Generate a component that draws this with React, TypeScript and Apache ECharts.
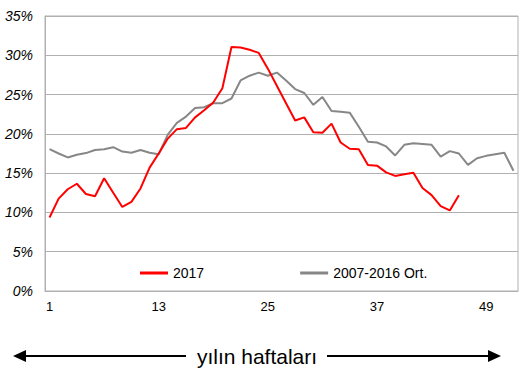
import React, { useEffect, useRef } from "react";
import * as echarts from "echarts";

const weeks: string[] = Array.from({ length: 52 }, (_, i) => String(i + 1));

const series2017: number[] = [
  9.35, 11.75, 12.95, 13.65, 12.35, 12.05, 14.35, 12.5, 10.7, 11.35,
  13.05, 15.7, 17.5, 19.4, 20.6, 20.75, 22.1, 23.0, 24.0, 25.8,
  31.05, 31.0, 30.7, 30.3, 28.3, 26.1, 23.9, 21.7, 22.1, 20.2,
  20.15, 21.3, 18.9, 18.1, 18.05, 16.05, 15.95, 15.1, 14.65, 14.85,
  15.05, 13.1, 12.2, 10.8, 10.25, 12.2,
];

const seriesAvg: number[] = [
  18.05, 17.5, 17.0, 17.35, 17.55, 17.95, 18.05, 18.3, 17.75, 17.6,
  17.95, 17.6, 17.4, 19.9, 21.4, 22.2, 23.3, 23.4, 23.9, 23.9,
  24.5, 26.8, 27.4, 27.8, 27.4, 27.8, 26.8, 25.7, 25.2, 23.7,
  24.7, 22.9, 22.8, 22.7, 20.9, 19.0, 18.9, 18.4, 17.25, 18.6,
  18.8, 18.7, 18.6, 17.1, 17.8, 17.5, 16.05, 16.9, 17.2, 17.4,
  17.6, 15.3,
];

const seriesNames: string[] = ["2017", "2007-2016 Ort."];
const axisTitle = "yılın haftaları";

export default function App() {
  const ref = useRef<HTMLDivElement>(null);
  useEffect(() => {
    if (!ref.current) return;
    const chart = echarts.init(ref.current, undefined, { renderer: "svg" });
    const font = "Liberation Sans, Arial, sans-serif";
    chart.setOption({
      animation: false,
      backgroundColor: "#fff",
      grid: {
        left: 45,
        right: 14,
        top: 16,
        bottom: 93,
        show: true,
        borderColor: "#b0b0b0",
        borderWidth: 1,
      },
      legend: {
        data: seriesNames,
        left: 140,
        top: 266,
        padding: 0,
        itemWidth: 28,
        itemHeight: 3,
        itemGap: 96,
        icon: "rect",
        textStyle: { fontSize: 14, color: "#000", fontFamily: font },
      },
      xAxis: {
        type: "category",
        data: weeks,
        boundaryGap: true,
        axisTick: { show: false },
        axisLine: { lineStyle: { color: "#b0b0b0", width: 1 } },
        axisLabel: {
          interval: 11,
          margin: 9,
          color: "#000",
          fontSize: 13,
          fontFamily: font,
        },
        splitLine: { show: false },
      },
      yAxis: {
        type: "value",
        min: 0,
        max: 35,
        interval: 5,
        axisLine: { show: true, lineStyle: { color: "#b0b0b0", width: 1 } },
        axisTick: { show: false },
        axisLabel: {
          formatter: "{value}%",
          margin: 12,
          color: "#000",
          fontSize: 14,
          fontStyle: "italic",
          fontFamily: font,
        },
        splitLine: { lineStyle: { color: "#b0b0b0", width: 1 } },
      },
      series: [
        {
          name: seriesNames[0],
          type: "line",
          data: series2017,
          symbol: "none",
          color: "#ff0000",
          lineStyle: { color: "#ff0000", width: 2 },
          z: 3,
        },
        {
          name: seriesNames[1],
          type: "line",
          data: seriesAvg,
          symbol: "none",
          color: "#878787",
          lineStyle: { color: "#878787", width: 2 },
          z: 2,
        },
      ],
      graphic: [
        {
          type: "text",
          x: 257,
          y: 356,
          style: {
            text: axisTitle,
            fontSize: 21,
            fontFamily: font,
            fill: "#000",
            align: "center",
            verticalAlign: "middle",
          },
        },
        {
          type: "line",
          shape: { x1: 22, y1: 356, x2: 186, y2: 356 },
          style: { stroke: "#000", lineWidth: 2 },
        },
        {
          type: "polygon",
          shape: { points: [[13, 356], [26, 350], [26, 362]] },
          style: { fill: "#000" },
        },
        {
          type: "line",
          shape: { x1: 327, y1: 356, x2: 492, y2: 356 },
          style: { stroke: "#000", lineWidth: 2 },
        },
        {
          type: "polygon",
          shape: { points: [[501, 356], [488, 350], [488, 362]] },
          style: { fill: "#000" },
        },
      ],
    });
    return () => chart.dispose();
  }, []);
  return <div ref={ref} style={{ width: 532, height: 384, position: "absolute", left: 0, top: 0 }} />;
}
